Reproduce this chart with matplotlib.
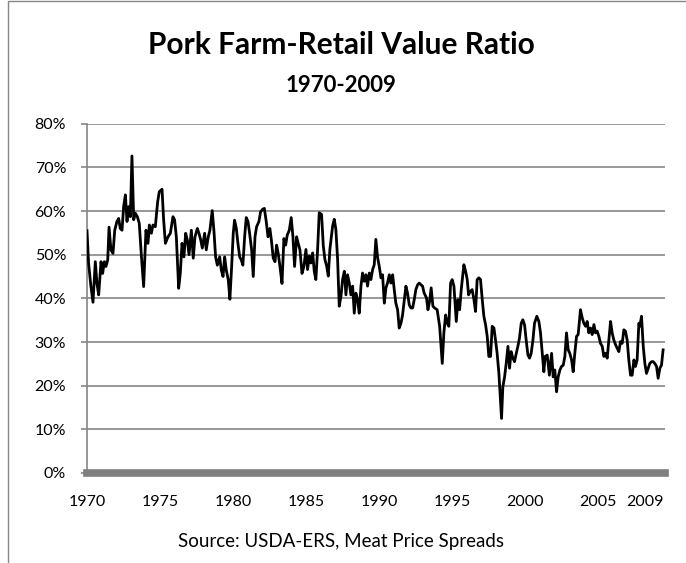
import matplotlib.pyplot as plt
from matplotlib.ticker import FuncFormatter
from matplotlib.patches import Rectangle

plt.rcParams['font.family'] = ['Lato', 'DejaVu Sans']

# pork farm-to-retail value ratio (%), by fractional year
years = [
    1970.00, 1970.11, 1970.27, 1970.41, 1970.57, 1970.68, 1970.80, 1970.96,
    1971.07, 1971.19, 1971.30, 1971.42, 1971.51, 1971.64, 1971.78, 1971.90,
    1972.05, 1972.17, 1972.28, 1972.40, 1972.51, 1972.63, 1972.74, 1972.85,
    1972.97, 1973.08, 1973.20, 1973.31, 1973.45, 1973.58, 1973.72, 1973.88,
    1974.04, 1974.18, 1974.27, 1974.41, 1974.52, 1974.68, 1974.84, 1974.95,
    1975.14, 1975.25, 1975.37, 1975.55, 1975.71, 1975.89, 1976.00, 1976.12,
    1976.28, 1976.39, 1976.51,
    1976.64, 1976.76, 1976.87, 1976.99, 1977.15, 1977.28, 1977.40, 1977.56,
    1977.67, 1977.79, 1977.90, 1978.06, 1978.17, 1978.31, 1978.42, 1978.58,
    1978.70, 1978.81, 1978.93, 1979.09, 1979.20, 1979.32, 1979.43, 1979.54,
    1979.68, 1979.79, 1979.91, 1980.02, 1980.11, 1980.23, 1980.34, 1980.46,
    1980.57, 1980.68, 1980.80, 1980.91, 1981.03, 1981.14, 1981.28, 1981.39,
    1981.51, 1981.62, 1981.78, 1981.89, 1982.03, 1982.15, 1982.28, 1982.40,
    1982.53, 1982.63, 1982.76, 1982.88, 1982.99, 1983.10, 1983.22, 1983.36,
    1983.49, 1983.61, 1983.72, 1983.86, 1983.99, 1984.11, 1984.22, 1984.36,
    1984.47, 1984.59, 1984.73, 1984.86,
    1985.00, 1985.11, 1985.23, 1985.34, 1985.46, 1985.57, 1985.68, 1985.80,
    1985.91, 1986.07, 1986.19, 1986.30, 1986.42, 1986.53, 1986.64, 1986.83,
    1986.94, 1987.05, 1987.17, 1987.28, 1987.40, 1987.51, 1987.63, 1987.74,
    1987.85, 1987.97, 1988.08, 1988.20, 1988.31, 1988.42, 1988.54, 1988.65,
    1988.77, 1988.88, 1988.99, 1989.11, 1989.22, 1989.34, 1989.45, 1989.57,
    1989.68, 1989.79, 1989.91, 1990.02, 1990.14, 1990.25, 1990.37, 1990.48,
    1990.59, 1990.71, 1990.82, 1990.94, 1991.05, 1991.16, 1991.28, 1991.39,
    1991.51, 1991.62, 1991.74, 1991.85, 1991.96, 1992.08, 1992.19, 1992.31,
    1992.42, 1992.53, 1992.65, 1992.76, 1992.88, 1992.99, 1993.10, 1993.26,
    1993.36, 1993.47, 1993.58, 1993.70, 1993.81, 1993.99, 1994.16, 1994.34,
    1994.45, 1994.57, 1994.68, 1994.79, 1994.91, 1995.02, 1995.14, 1995.30,
    1995.41, 1995.53, 1995.64, 1995.82, 1995.94, 1996.05, 1996.14, 1996.26,
    1996.39, 1996.51, 1996.62, 1996.73, 1996.85, 1996.96, 1997.08, 1997.19,
    1997.31, 1997.42, 1997.53, 1997.65, 1997.76, 1997.88, 1997.99, 1998.10,
    1998.22, 1998.33, 1998.40, 1998.49, 1998.61, 1998.72, 1998.84, 1998.95,
    1999.06, 1999.18, 1999.29, 1999.41, 1999.52, 1999.63, 1999.75, 1999.86,
    1999.98, 2000.09, 2000.21, 2000.32, 2000.43, 2000.55, 2000.66, 2000.82,
    2000.96, 2001.07, 2001.19, 2001.30, 2001.39, 2001.53, 2001.68,
    2001.83, 2001.94, 2002.05, 2002.17, 2002.28, 2002.40, 2002.51, 2002.63,
    2002.74, 2002.85, 2002.97, 2003.08, 2003.20, 2003.31, 2003.42, 2003.54,
    2003.65, 2003.81, 2003.93, 2004.04, 2004.16, 2004.27, 2004.38, 2004.50,
    2004.61, 2004.73, 2004.84, 2004.95, 2005.07, 2005.18, 2005.30, 2005.41,
    2005.53, 2005.64, 2005.75, 2005.87, 2005.98, 2006.10, 2006.21, 2006.32,
    2006.44, 2006.55, 2006.67, 2006.78, 2006.89, 2007.01, 2007.12, 2007.24,
    2007.35, 2007.47, 2007.58, 2007.69, 2007.81, 2007.88, 2007.99, 2008.11,
    2008.22, 2008.33, 2008.45, 2008.56, 2008.68, 2008.79, 2008.90, 2009.02,
    2009.13, 2009.25, 2009.36, 2009.47,
]
ratio = [
    55.5, 48.0, 42.7, 39.1, 48.4, 43.4, 40.8, 48.4,
    45.7, 48.4, 47.3, 48.8, 56.3, 51.1, 50.3, 55.6,
    57.6, 58.3, 56.0, 55.6, 61.0, 63.7, 57.6, 61.0,
    58.7, 72.6, 58.0, 59.5, 58.7, 57.2, 50.0, 42.7,
    55.6, 52.6, 56.8, 54.9, 56.8, 56.4, 62.1, 64.4,
    65.0, 58.0, 52.6, 54.1, 54.9, 58.7, 58.0, 54.1,
    42.3, 45.7, 52.6,
    49.5, 54.9, 53.4, 50.0, 55.6, 49.2, 54.1, 56.0,
    54.9, 53.4, 51.5, 54.9, 51.1, 54.1, 55.6, 60.1,
    55.3, 49.5, 47.6, 49.5, 46.5, 45.0, 49.5, 46.5,
    44.2, 39.8, 47.3, 54.9, 57.9, 56.0, 52.6, 49.5,
    48.8, 47.6, 54.1, 58.5, 57.6, 54.9, 51.1, 45.0,
    54.1, 56.4, 57.6, 59.8, 60.4, 60.6, 57.6, 54.1,
    56.0, 53.4, 49.2, 48.4, 52.2, 50.3, 47.3, 43.4,
    53.7, 52.2, 54.5, 55.6, 58.5, 54.1, 47.3, 54.1,
    52.6, 51.1, 45.7, 47.3,
    51.2, 46.6, 49.7, 48.1, 50.4, 46.2, 44.3, 51.2,
    59.6, 59.2, 52.0, 48.9, 47.4, 45.1, 51.2, 56.6,
    58.1, 55.8, 48.9, 38.2, 40.5, 44.3, 46.2, 40.8,
    45.4, 43.5, 40.8, 42.8, 36.6, 41.2, 39.7, 36.6,
    42.8, 45.8, 43.9, 45.4, 42.8, 45.8, 44.3, 46.6,
    47.7, 53.5, 49.3, 47.4, 44.7, 45.4, 38.9, 42.4,
    43.5, 45.4, 43.5, 45.4, 42.0, 38.9, 37.4, 33.2,
    34.3, 36.2, 39.7, 42.8, 41.2, 38.5, 37.8, 37.8,
    39.7, 42.0, 43.1, 43.5, 43.1, 42.8, 41.2, 40.1,
    37.4, 39.3, 42.4, 38.2, 37.8, 37.4, 33.6, 25.1,
    32.1, 36.2, 34.3, 33.6, 43.5, 44.3, 42.8, 34.7,
    39.7, 37.4, 42.0, 47.7, 46.2, 44.3, 40.8, 41.6,
    42.0, 39.7, 37.0, 44.3, 44.7, 44.3, 39.7, 35.9,
    33.9, 31.3, 26.7, 26.7, 33.6, 33.2, 30.4, 27.4,
    22.8, 16.7, 12.5, 19.7, 22.0, 25.1, 29.0, 24.0,
    27.8, 26.3, 25.5, 27.4, 29.0, 30.9, 34.3, 35.1,
    33.9, 30.4, 27.0, 26.3, 27.4, 30.4, 34.3, 35.9,
    34.7, 32.1, 27.4, 23.2, 26.7, 27.0, 22.4,
    27.4, 22.0, 23.6, 18.6, 22.0, 23.6, 24.4, 24.7,
    26.7, 32.1, 28.2, 27.4, 25.9, 23.2, 27.4, 31.3,
    31.7, 37.4, 35.5, 34.3, 33.6, 34.7, 32.1, 33.2,
    31.7, 34.0, 32.1, 32.5, 31.3, 29.7, 29.0, 26.7,
    27.4, 26.3, 30.4, 34.7, 32.1, 30.4, 29.4, 28.6,
    27.8, 30.1, 29.7, 32.8, 32.5, 30.4, 25.9, 22.4,
    22.4, 25.9, 24.4, 25.9, 34.3, 33.6, 35.9, 29.0,
    25.1, 22.8, 24.0, 25.1, 25.5, 25.5, 25.1, 24.4,
    21.7, 24.0, 24.7, 28.2,
]

# the last category label sits a little before Jan 2009 in the original
tick_years = [1970, 1975, 1980, 1985, 1990, 1995, 2000, 2005, 2008.2]
tick_labels = ['1970', '1975', '1980', '1985', '1990', '1995', '2000', '2005', '2009']
y_ticks = [0, 10, 20, 30, 40, 50, 60, 70, 80]

grey = '#868686'

fig = plt.figure(figsize=(6.86, 5.63), dpi=100)
ax = fig.add_axes([87 / 686, 1 - 473 / 563, 578 / 686, 349.3 / 563])

# chart area border (cut off at the right and bottom)
fig.patches.append(Rectangle((8 / 686, -0.1), 1.2, 1.1 - 1.5 / 563,
                             transform=fig.transFigure, fill=False,
                             edgecolor=grey, linewidth=1.0))

ax.plot(years, ratio, color='black', linewidth=2.0, solid_joinstyle='round', zorder=3)

ax.set_xlim(1970, 2009.6)
ax.set_ylim(0, 80)
ax.set_yticks(y_ticks)
ax.yaxis.set_major_formatter(FuncFormatter(lambda v, p: f'{v:.0f}%'))
ax.set_xticks(tick_years)
ax.set_xticklabels(tick_labels)

ax.grid(axis='y', color=grey, linewidth=1.2)
ax.set_axisbelow(True)
for side in ['top', 'right']:
    ax.spines[side].set_visible(False)
ax.spines['left'].set_color(grey)
ax.spines['left'].set_linewidth(1.2)
ax.spines['bottom'].set_color('#808080')
ax.spines['bottom'].set_linewidth(5.5)
ax.spines['bottom'].set_zorder(4)
ax.tick_params(axis='y', length=4, width=1.2, color=grey, labelsize=11.5, pad=11)
ax.tick_params(axis='x', length=0, labelsize=11.5, pad=16)

fig.text(0.497, 1 - 45 / 563, 'Pork Farm-Retail Value Ratio', ha='center', va='center',
         fontsize=21.5, fontweight='bold')
fig.text(0.497, 1 - 85 / 563, '1970-2009', ha='center', va='center',
         fontsize=16, fontweight='bold')
fig.text(0.497, 1 - 541 / 563, 'Source: USDA-ERS, Meat Price Spreads', ha='center',
         va='center', fontsize=13.5)

fig.savefig('out.png', dpi=100)
